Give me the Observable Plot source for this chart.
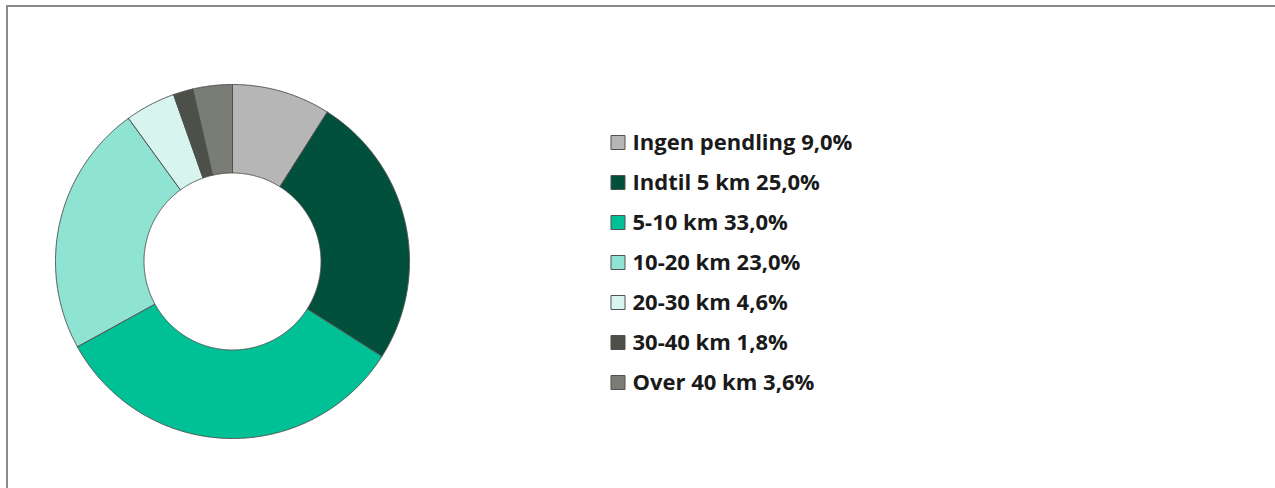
<!DOCTYPE html>
<html>
<head>
<meta charset="utf-8">
<script src="https://cdn.jsdelivr.net/npm/d3@7"></script>
<script src="https://cdn.jsdelivr.net/npm/@observablehq/plot@0.6"></script>
<style>
  html, body { margin: 0; padding: 0; background: #fff; }
  body { width: 1275px; height: 488px; overflow: hidden; position: relative; }
  .frame { position: absolute; left: 6px; top: 5px; width: 1320px; height: 540px; border: 2px solid #8a8a8a; box-sizing: border-box; }
  #donut { position: absolute; left: 0; top: 0; }
  #legend { position: absolute; left: 600px; top: 0; }
</style>
</head>
<body>
<div class="frame"></div>
<div id="donut"></div>
<div id="legend"></div>
<script>
// ---- data ----
const categories = ["Ingen pendling", "Indtil 5 km", "5-10 km", "10-20 km", "20-30 km", "30-40 km", "Over 40 km"];
const values = [9.0, 25.0, 33.0, 23.0, 4.6, 1.8, 3.6];

// ---- styles ----
const palette = ["#b6b6b6", "#00503c", "#00c096", "#8ee3d2", "#d8f4ef", "#4c5049", "#7a7d76"];
const edge = "#505050";

const rows = categories.map((c, i) => ({category: c, value: values[i]}));

// slice outlines computed from pie angles (start at 12 o'clock, clockwise)
const arcs = d3.pie().sort(null).value(d => d.value)(rows);
const inner = 0.5, outer = 1;
const pts = [];
for (const a of arcs) {
  const n = Math.max(2, Math.ceil((a.endAngle - a.startAngle) / 0.005));
  const ring = [];
  for (let k = 0; k <= n; k++) {
    const t = a.startAngle + (a.endAngle - a.startAngle) * k / n;
    ring.push([outer * Math.sin(t), outer * Math.cos(t)]);
  }
  for (let k = n; k >= 0; k--) {
    const t = a.startAngle + (a.endAngle - a.startAngle) * k / n;
    ring.push([inner * Math.sin(t), inner * Math.cos(t)]);
  }
  ring.push(ring[0]);
  for (const [x, y] of ring) pts.push({category: a.data.category, x, y});
}

const cx = 232, cy = 261, R = 177;
const donut = Plot.plot({
  width: 480, height: 488,
  margin: 0,
  x: {domain: [-1, 1], range: [cx - R, cx + R], axis: null},
  y: {domain: [-1, 1], range: [cy + R, cy - R], axis: null},
  color: {domain: categories, range: palette},
  marks: [
    Plot.line(pts, {x: "x", y: "y", z: "category", fill: "category", stroke: edge, strokeWidth: 1, curve: "linear"})
  ]
});
document.getElementById("donut").append(donut);

const fmt = v => v.toFixed(1).replace(".", ",") + "%";
const legend = Plot.plot({
  width: 400, height: 488,
  margin: 0,
  y: {type: "point", domain: categories, range: [141.5, 383], padding: 0, axis: null},
  color: {domain: categories, range: palette},
  marks: [
    Plot.dot(rows, {y: "category", frameAnchor: "left", dx: 17.5, symbol: "square", r: 7.9, fill: "category", stroke: edge, strokeWidth: 1}),
    Plot.text(rows, {y: "category", frameAnchor: "left", dx: 32, textAnchor: "start", text: d => `${d.category} ${fmt(d.value)}`,
      fontSize: 22, fontWeight: "bold", fill: "#1a1a1a", fontFamily: "'Open Sans', Lato, sans-serif"})
  ]
});
document.getElementById("legend").append(legend);
</script>
</body>
</html>
